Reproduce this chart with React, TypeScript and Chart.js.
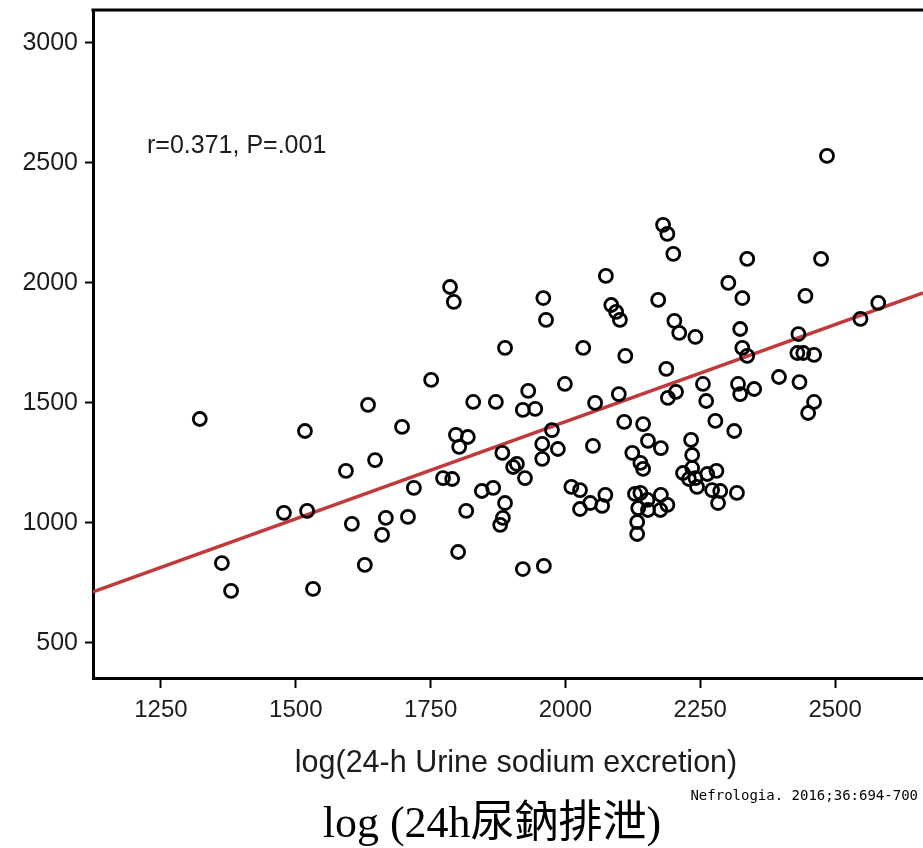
import React, { useEffect, useRef } from 'react';
import { Chart, registerables } from 'chart.js';

Chart.register(...registerables);

// log(24-h urine sodium excretion) for each subject
const urineSodium = [
  1322, 1363, 1380, 1478, 1517, 1521, 1532, 1593, 1604, 1628,
  1634, 1647, 1660, 1667, 1697, 1708, 1719, 1751, 1773, 1790,
  1786, 1793, 1801, 1797, 1803, 1816, 1819, 1829, 1845, 1866,
  1871, 1879, 1884, 1883, 1888, 1888, 1903, 1910, 1925, 1921,
  1931, 1944, 1957, 1957, 1959, 1964, 1921, 1960, 1975, 1986,
  1999, 2011, 2027, 2027, 2033, 2051, 2046, 2055, 2068, 2075,
  2074, 2085, 2094, 2101, 2099, 2111, 2109, 2124, 2139, 2144,
  2135, 2133, 2133, 2129, 2139, 2144, 2152, 2153, 2153, 2177,
  2172, 2176, 2177, 2189, 2181, 2189, 2187, 2190, 2200, 2205,
  2202, 2211, 2218, 2229, 2233, 2235, 2235, 2241, 2241, 2244,
  2255, 2261, 2263, 2278, 2272, 2280, 2283, 2287, 2302, 2313,
  2318, 2324, 2320, 2324, 2328, 2328, 2337, 2337, 2350, 2396,
  2432, 2434, 2430, 2441, 2445, 2450, 2461, 2461, 2474, 2485,
  2547, 2580,
];

// paired outcome values
const outcomeValues = [
  1433, 833, 717, 1042, 1383, 1050, 725, 1217, 996, 825,
  1492, 1262, 950, 1021, 1400, 1025, 1146, 1596, 1187, 1183,
  1983, 1921, 879, 1367, 1317, 1050, 1358, 1504, 1133, 1146,
  1504, 992, 1021, 1292, 1729, 1083, 1233, 1246, 1187, 1471,
  1550, 1475, 1267, 1329, 1937, 1846, 808, 821, 1387, 1308,
  1579, 1150, 1137, 1058, 1729, 1321, 1083, 1500, 1071, 2029,
  1117, 1908, 1879, 1846, 1537, 1696, 1421, 1292, 1250, 1225,
  1062, 1004, 954, 1121, 1125, 1412, 1096, 1342, 1054, 1117,
  1929, 1054, 1312, 1075, 2242, 2204, 1642, 1521, 2121, 1546,
  1842, 1792, 1208, 1183, 1346, 1283, 1229, 1187, 1775, 1150,
  1579, 1508, 1204, 1425, 1137, 1217, 1083, 1133, 2000, 1383,
  1125, 1808, 1579, 1537, 1937, 1729, 1696, 2100, 1558, 1608,
  1787, 1587, 1708, 1708, 1946, 1458, 1504, 1700, 2100, 2529,
  1850, 1917,
];

const xTickValues = [1250, 1500, 1750, 2000, 2250, 2500];
const yTickValues = [500, 1000, 1500, 2000, 2500, 3000];
const xRange = [1124, 2663];
const yRange = [354, 3137];

// least-squares fit line
const fitIntercept = -196;
const fitSlope = 0.809;

const statLabel = 'r=0.371, P=.001';
const xAxisTitle = 'log(24-h Urine sodium excretion)';
const sourceNote = 'Nefrologia. 2016;36:694-700';
const caption = 'log (24h尿鈉排泄)';

const SANS = '"Liberation Sans", Arial, sans-serif';

const textPlugin = {
  id: 'extraText',
  afterDraw(chart: any) {
    const { ctx, chartArea } = chart;
    ctx.save();
    // closing top border of the plot frame
    ctx.strokeStyle = '#000';
    ctx.lineWidth = 3;
    ctx.beginPath();
    ctx.moveTo(chartArea.left - 1.5, chartArea.top);
    ctx.lineTo(chartArea.right + 2, chartArea.top);
    ctx.stroke();

    ctx.fillStyle = '#1c1c1c';
    ctx.textBaseline = 'alphabetic';

    ctx.font = `25px ${SANS}`;
    ctx.textAlign = 'left';
    ctx.fillText(statLabel, chartArea.left + 54, chartArea.top + 143);

    ctx.font = `30.5px ${SANS}`;
    ctx.textAlign = 'center';
    ctx.fillText(xAxisTitle, 516, 772);

    ctx.fillStyle = '#000';
    ctx.font = '14px "DejaVu Sans Mono", monospace';
    ctx.textAlign = 'right';
    ctx.fillText(sourceNote, 918, 800);

    ctx.font = '44px "Liberation Serif", "Noto Sans CJK TC", serif';
    ctx.textAlign = 'center';
    ctx.fillText(caption, 492, 837);
    ctx.restore();
  },
};

// drop the label-overflow padding so the frame fills the canvas edges
const noScalePadding = (scale: any) => {
  scale.paddingTop = 0;
  scale.paddingBottom = 0;
  scale.paddingLeft = 0;
  scale.paddingRight = 0;
};

export default function App() {
  const canvasRef = useRef<HTMLCanvasElement | null>(null);

  useEffect(() => {
    if (!canvasRef.current) return;
    const points = urineSodium.map((x, i) => ({ x, y: outcomeValues[i] }));
    const fitLine = xRange.map((x) => ({ x, y: fitIntercept + fitSlope * x }));

    const tickFont = { family: SANS, size: 24 };

    const chart = new Chart(canvasRef.current, {
      type: 'scatter',
      data: {
        datasets: [
          {
            label: 'fit',
            data: fitLine,
            showLine: true,
            borderColor: '#c2393b',
            borderWidth: 3.5,
            pointRadius: 0,
            order: 2,
          },
          {
            label: 'subjects',
            data: points,
            pointStyle: 'circle',
            pointRadius: 6.5,
            pointBorderWidth: 2.8,
            borderColor: '#000',
            backgroundColor: 'rgba(0,0,0,0)',
            order: 1,
          },
        ],
      },
      options: {
        responsive: false,
        animation: false,
        devicePixelRatio: 1,
        layout: { autoPadding: false, padding: { top: 10, right: 0, left: 0, bottom: 0 } },
        plugins: {
          legend: { display: false },
          tooltip: { enabled: false },
        },
        scales: {
          x: {
            type: 'linear',
            min: xRange[0],
            max: xRange[1],
            afterBuildTicks: (scale: any) => {
              scale.ticks = xTickValues.map((value) => ({ value }));
            },
            afterFit: (scale: any) => {
              scale.height = 170;
              noScalePadding(scale);
            },
            grid: {
              display: true,
              drawOnChartArea: false,
              drawTicks: true,
              tickLength: 10,
              tickWidth: 2,
              tickColor: '#000',
            },
            border: { display: true, color: '#000', width: 3 },
            ticks: {
              font: tickFont,
              color: '#1c1c1c',
              padding: 8,
              maxRotation: 0,
              callback: (v: any) => String(v),
            },
          },
          y: {
            type: 'linear',
            min: yRange[0],
            max: yRange[1],
            afterBuildTicks: (scale: any) => {
              scale.ticks = yTickValues.map((value) => ({ value }));
            },
            afterFit: (scale: any) => {
              scale.width = 93;
              noScalePadding(scale);
            },
            grid: {
              display: true,
              drawOnChartArea: false,
              drawTicks: true,
              tickLength: 8,
              tickWidth: 2,
              tickColor: '#000',
            },
            border: { display: true, color: '#000', width: 3 },
            ticks: {
              font: { family: SANS, size: 25 },
              color: '#1c1c1c',
              padding: 7,
              callback: (v: any) => String(v),
            },
          },
        },
      },
      plugins: [textPlugin],
    });

    return () => chart.destroy();
  }, []);

  return (
    <div style={{ position: 'absolute', left: 0, top: 0, width: 923, height: 848, background: '#fff' }}>
      <canvas ref={canvasRef} width={923} height={848} style={{ display: 'block' }} />
    </div>
  );
}
